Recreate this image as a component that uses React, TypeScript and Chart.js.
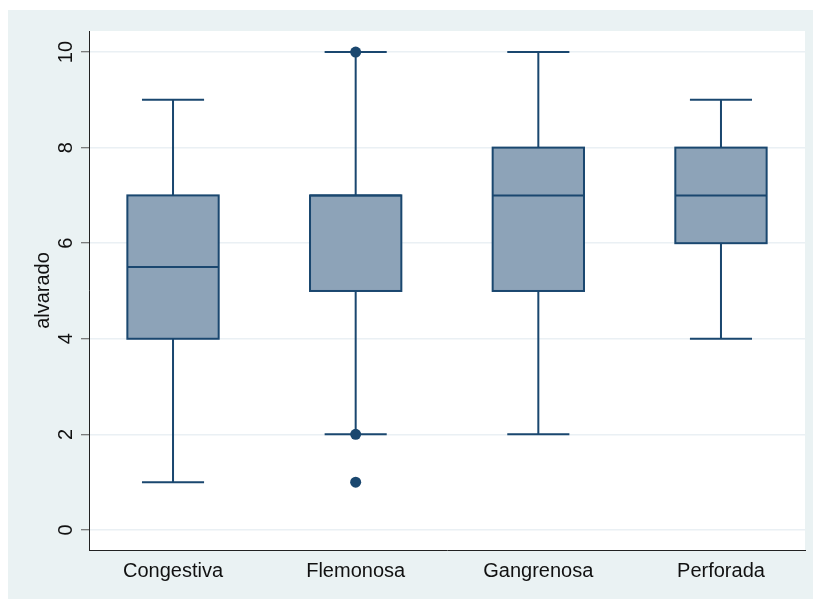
import React, { useEffect, useRef } from "react";
import { Chart, registerables } from "chart.js";

Chart.register(...registerables);

const categories = ["Congestiva", "Flemonosa", "Gangrenosa", "Perforada"];
const whiskerLow = [1, 2, 2, 4];
const q1 = [4, 5, 5, 6];
const median = [5.5, 7, 7, 7];
const q3 = [7, 7, 8, 8];
const whiskerHigh = [9, 10, 10, 9];
const outlierCategory = [1, 1, 1];
const outlierValue = [10, 2, 1];
const yTicks = [0, 2, 4, 6, 8, 10];
const yTitle = "alvarado";

const LINE = "#1A476F";
const FILL = "#8DA3B8";
const BG = "#EAF2F3";
const FONT = "'Liberation Sans', Arial, sans-serif";

const boxPlugin = {
  id: "boxes",
  beforeDraw(chart: any) {
    const { ctx, chartArea } = chart;
    ctx.save();
    ctx.fillStyle = BG;
    ctx.fillRect(0, 0, chart.width, chart.height);
    ctx.fillStyle = "#FFFFFF";
    ctx.fillRect(chartArea.left, chartArea.top, chartArea.right - chartArea.left, chartArea.bottom - chartArea.top);
    ctx.restore();
  },
  beforeDatasetsDraw(chart: any) {
    const { ctx } = chart;
    const xs = chart.scales.x;
    const ys = chart.scales.y;
    ctx.save();
    ctx.strokeStyle = LINE;
    ctx.lineWidth = 2;
    categories.forEach((_, i) => {
      const cx = xs.getPixelForValue(i);
      const bl = xs.getPixelForValue(i - 0.25);
      const br = xs.getPixelForValue(i + 0.25);
      const cl = xs.getPixelForValue(i - 0.17);
      const cr = xs.getPixelForValue(i + 0.17);
      const yLo = ys.getPixelForValue(whiskerLow[i]);
      const yQ1 = ys.getPixelForValue(q1[i]);
      const yMed = ys.getPixelForValue(median[i]);
      const yQ3 = ys.getPixelForValue(q3[i]);
      const yHi = ys.getPixelForValue(whiskerHigh[i]);
      ctx.beginPath();
      ctx.moveTo(cx, yQ3);
      ctx.lineTo(cx, yHi);
      ctx.moveTo(cl, yHi);
      ctx.lineTo(cr, yHi);
      ctx.moveTo(cx, yQ1);
      ctx.lineTo(cx, yLo);
      ctx.moveTo(cl, yLo);
      ctx.lineTo(cr, yLo);
      ctx.stroke();
      ctx.fillStyle = FILL;
      ctx.fillRect(bl, yQ3, br - bl, yQ1 - yQ3);
      ctx.strokeRect(bl, yQ3, br - bl, yQ1 - yQ3);
      ctx.beginPath();
      ctx.moveTo(bl, yMed);
      ctx.lineTo(br, yMed);
      ctx.stroke();
    });
    ctx.restore();
  },
  afterDraw(chart: any) {
    const { ctx } = chart;
    const ys = chart.scales.y;
    ctx.save();
    ctx.fillStyle = "#111111";
    ctx.font = `20px ${FONT}`;
    ctx.textAlign = "center";
    ctx.textBaseline = "alphabetic";
    yTicks.forEach((v) => {
      const py = ys.getPixelForValue(v);
      ctx.save();
      ctx.translate(64, py);
      ctx.rotate(-Math.PI / 2);
      ctx.fillText(String(v), 0, 0);
      ctx.restore();
    });
    ctx.restore();
  },
};

export default function App() {
  const ref = useRef<HTMLCanvasElement | null>(null);
  useEffect(() => {
    if (!ref.current) return;
    const chart = new Chart(ref.current, {
      type: "scatter",
      data: {
        datasets: [
          {
            label: "outliers",
            data: outlierCategory.map((c, i) => ({ x: c, y: outlierValue[i] })),
            backgroundColor: LINE,
            borderColor: LINE,
            pointRadius: 5.5,
            pointHoverRadius: 5.5,
            borderWidth: 0,
          },
        ],
      },
      options: {
        animation: false,
        responsive: false,
        events: [],
        layout: { padding: { top: 21, right: 8, left: 0, bottom: 0 } },
        plugins: { legend: { display: false }, tooltip: { enabled: false } },
        scales: {
          x: {
            type: "linear",
            min: -0.46,
            max: 3.46,
            afterBuildTicks: (s: any) => {
              s.ticks = categories.map((_, i) => ({ value: i }));
            },
            afterFit: (s: any) => {
              s.height = 49;
            },
            grid: { display: false, drawTicks: false },
            border: { display: true, color: "#222222", width: 1 },
            ticks: {
              autoSkip: false,
              maxRotation: 0,
              minRotation: 0,
              padding: 9,
              color: "#111111",
              font: { family: FONT, size: 20 },
              callback: (v: any) => categories[Number(v)] ?? "",
            },
          },
          y: {
            type: "linear",
            min: -0.42,
            max: 10.44,
            afterBuildTicks: (s: any) => {
              s.ticks = yTicks.map((v) => ({ value: v }));
            },
            afterFit: (s: any) => {
              s.width = 81;
            },
            grid: {
              color: "#EAF0F4",
              lineWidth: 1.5,
              drawTicks: true,
              tickLength: 8,
              tickColor: "#555555",
              tickWidth: 1,
            },
            border: { display: true, color: "#222222", width: 1 },
            ticks: { display: false },
            title: {
              display: true,
              text: yTitle,
              color: "#111111",
              font: { family: FONT, size: 20 },
              padding: { top: 23, bottom: 0 },
            },
          },
        },
      },
      plugins: [boxPlugin],
    });
    return () => chart.destroy();
  }, []);
  return (
    <div style={{ position: "fixed", left: 8, top: 10, width: 805, height: 589 }}>
      <canvas ref={ref} width={805} height={589} style={{ display: "block", width: 805, height: 589 }} />
    </div>
  );
}
